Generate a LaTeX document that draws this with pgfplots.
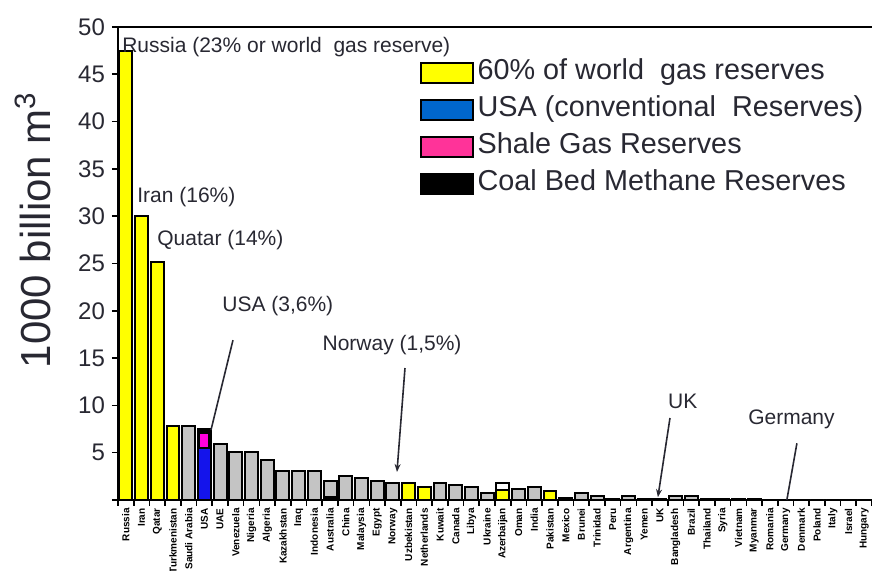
\documentclass[border=0pt]{standalone}
\usepackage{fontspec}
\setmainfont{Liberation Sans}
\usepackage{pgfplots}
\usepackage{pgfplotstable}
\pgfplotsset{compat=1.18}
\usetikzlibrary{arrows.meta}

\definecolor{barYellow}{RGB}{255,255,0}
\definecolor{barGray}{RGB}{196,196,196}
\definecolor{barBlue}{RGB}{20,20,235}
\definecolor{legBlue}{RGB}{0,102,204}
\definecolor{barMag}{RGB}{255,0,220}
\definecolor{legMag}{RGB}{255,51,153}
\definecolor{annot}{RGB}{40,40,50}

% yellow bars: 60% of world gas reserves
\pgfplotstableread{
x y
0 47.5
1 30.0
2 25.2
3 7.8
18 1.8
19 1.4
24 1.1
27 0.9
}\yellowdata

% grey bars: other countries
\pgfplotstableread{
x y
4 7.8
6 5.9
7 5.1
8 5.1
9 4.2
10 3.1
11 3.1
12 3.1
13 2.0
14 2.5
15 2.3
16 2.0
17 1.8
20 1.8
21 1.6
22 1.4
23 0.7
25 1.2
26 1.4
28 0.2
29 0.7
30 0.4
31 0.15
32 0.4
33 0.15
34 0.15
35 0.4
36 0.4
37 0.1
38 0.1
39 0.1
40 0.1
41 0.05
42 0
43 0
44 0
45 0
46 0
47 0
}\graydata

\newcommand\legbox[1]{\addlegendimage{legend image code/.code={\draw[fill=#1,draw=black,line width=0.8pt] (0pt,-5pt) rectangle (26pt,5pt);}}}

\begin{document}
\begin{tikzpicture}
\begin{axis}[
  name=ax,
  scale only axis, width=377pt, height=236.5pt,
  xmin=-0.5, xmax=47.5, ymin=0, ymax=50,
  axis x line*=bottom, axis y line*=left,
  axis line style={line width=1pt, -},
  ybar, bar width=0.82, bar shift=0pt,
  clip=false,
  tick align=outside,
  major tick length=3pt, minor tick length=3pt,
  every tick/.style={black, line width=0.8pt},
  ytick={0,5,...,50},
  yticklabels={,5,10,15,20,25,30,35,40,45,50},
  y tick label style={font=\fontsize{12}{12}\selectfont, text=annot},
  xtick={0,...,47},
  major x tick style={draw=none},
  minor xtick={-0.5,0.5,...,47.5},
  xticklabels={Russia,Iran,Qatar,Turkmenistan,Saudi Arabia,USA,UAE,Venezuela,Nigeria,Algeria,Kazakhstan,Iraq,Indonesia,Australia,China,Malaysia,Egypt,Norway,Uzbekistan,Netherlands,Kuwait,Canada,Libya,Ukraine,Azerbaijan,Oman,India,Pakistan,Mexico,Brunei,Trinidad,Peru,Argentina,Yemen,UK,Bangladesh,Brazil,Thailand,Syria,Vietnam,Myanmar,Romania,Germany,Denmark,Poland,Italy,Israel,Hungary},
  x tick label style={rotate=90, anchor=east, font=\fontsize{5}{5}\selectfont\bfseries, inner sep=1pt},
  ylabel={1000 billion m\textsuperscript{3}},
  ylabel style={font=\fontsize{21}{21}\selectfont, text=annot, at={(axis description cs:-0.113,0.571)}, anchor=center},
  legend style={at={(rel axis cs:0.4,0.94)}, anchor=north west, draw=none, fill=none,
    font=\fontsize{14.4}{14.4}\selectfont, text=annot, row sep=1.5pt, inner sep=0pt,
    nodes={text height=10pt, text depth=3pt, inner sep=2pt},
    /tikz/every even column/.append style={column sep=6pt}},
  legend cell align=left,
]
\legbox{barYellow}\addlegendentry{60\% of world\ \ gas reserves}
\legbox{legBlue}\addlegendentry{USA (conventional\ \ Reserves)}
\legbox{legMag}\addlegendentry{Shale Gas Reserves}
\legbox{black}\addlegendentry{Coal Bed Methane Reserves}

% outline above Azerbaijan
\addplot[fill=white, draw=black, line width=1pt, forget plot] coordinates {(24,1.8)};
\addplot[fill=barYellow, draw=black, line width=1pt, forget plot] table {\yellowdata};
\addplot[fill=barGray, draw=black, line width=1pt, forget plot] table {\graydata};
% USA: coal bed methane, shale gas, conventional
\addplot[fill=black, draw=black, line width=1pt, forget plot] coordinates {(5,7.5)};
\addplot[fill=barMag, draw=none, bar width=0.5, forget plot] coordinates {(5,7.0)};
\addplot[fill=barBlue, draw=black, line width=1pt, forget plot] coordinates {(5,5.5)};
% Australia coal bed methane
\addplot[fill=black, draw=black, line width=0.6pt, forget plot] coordinates {(13,0.4)};

\draw[line width=1pt] (rel axis cs:0,1) -- (rel axis cs:1,1);

\begin{scope}[every node/.style={font=\fontsize{10.5}{10.5}\selectfont, text=annot, inner sep=0pt, anchor=west}]
\node at (axis cs:-0.25,47.9) {Russia (23\% or world\ \ gas reserve)};
\node at (axis cs:0.71,32.0) {Iran (16\%)};
\node at (axis cs:1.98,27.5) {Quatar (14\%)};
\node at (axis cs:6.12,20.5) {USA (3,6\%)};
\node at (axis cs:12.5,16.4) {Norway (1,5\%)};
\node at (axis cs:34.5,10.4) {UK};
\node at (axis cs:39.6,8.5) {Germany};
\end{scope}
\draw[line width=0.8pt, annot] (axis cs:6.82,16.9) -- (axis cs:5.42,7.4);
\draw[line width=0.8pt, annot, -{Stealth[length=4pt,width=3pt]}] (axis cs:17.77,13.95) -- (axis cs:17.26,2.96);
\draw[line width=0.8pt, annot, -{Stealth[length=4pt,width=3pt]}] (axis cs:34.64,8.67) -- (axis cs:33.87,0.3);
\draw[line width=0.8pt, annot] (axis cs:42.72,6.0) -- (axis cs:42.08,0);

\coordinate (bbbl) at (rel axis cs:-0.1565,-0.1501);
\coordinate (bbtr) at (rel axis cs:1,1.0571);
\end{axis}
\pgfresetboundingbox
\path[use as bounding box] (bbbl) rectangle (bbtr);
\end{tikzpicture}
\end{document}
